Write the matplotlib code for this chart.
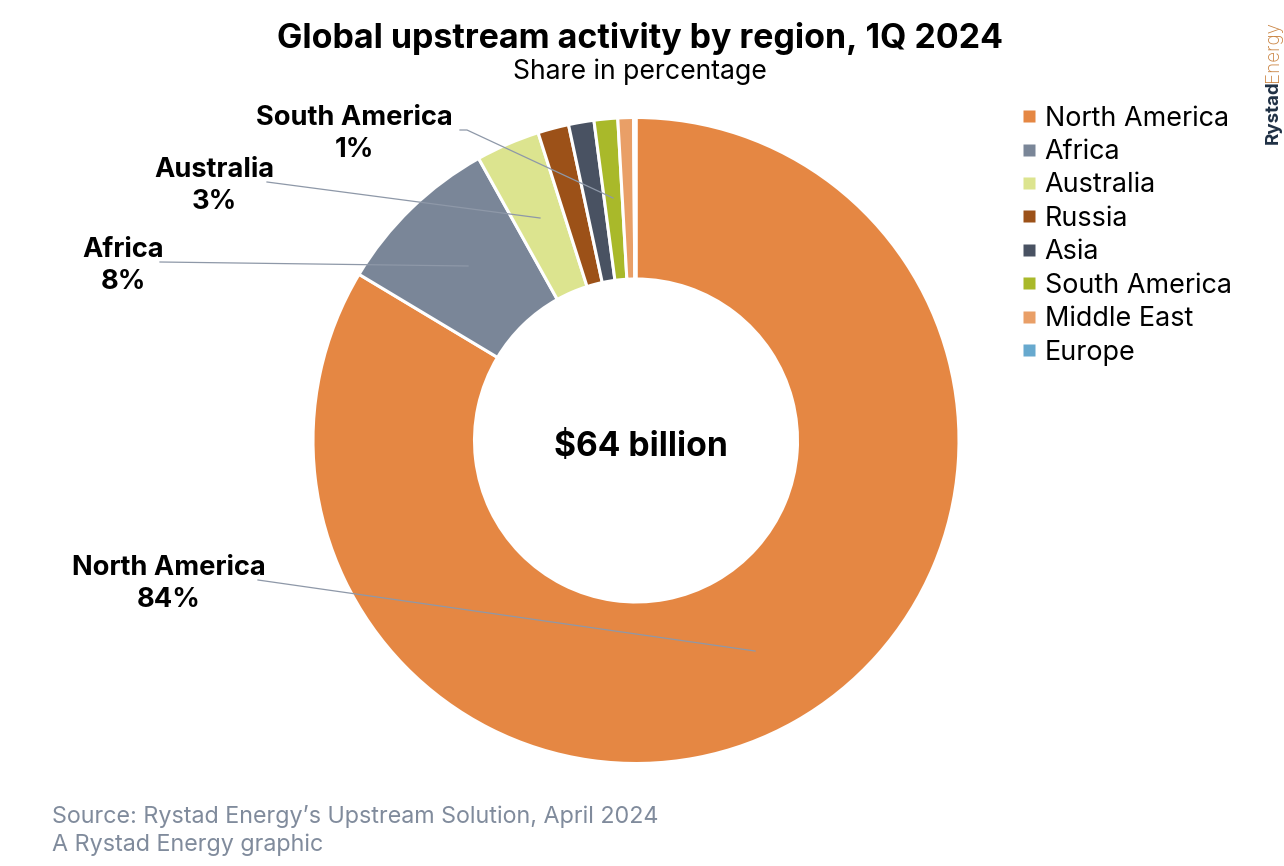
import matplotlib
matplotlib.use('Agg')
from matplotlib import pyplot as plt
from matplotlib.lines import Line2D

regions = ['North America', 'Africa', 'Australia', 'Russia', 'Asia', 'South America', 'Middle East', 'Europe']
shares = [83.6, 8.3, 3.2, 1.55, 1.27, 1.18, 0.78, 0.12]
colors = ['#E58743', '#7A8698', '#DCE48F', '#9C5118', '#495262', '#A9B92A', '#E99F67', '#67A9CE']

# label text, value text, text centre, leader start, leader end (pixels of the reference)
callouts = [
    ('South America', '1%', (354, 131), [(460, 130), (467, 130), (613, 198)]),
    ('Australia', '3%', (214, 183), [(267, 182), (540, 218)]),
    ('Africa', '8%', (123, 263), [(160, 262), (468, 266)]),
    ('North America', '84%', (169, 581), [(258, 580), (755, 651)]),
]

plt.rcParams['font.family'] = ['Inter', 'DejaVu Sans']

W, H = 1284, 866
fig = plt.figure(figsize=(W / 100, H / 100), dpi=100)
ax = fig.add_axes([0, 0, 1, 1])

wedges, _ = ax.pie(shares, colors=colors, startangle=90, counterclock=False,
                   center=(636, H - 440.5), radius=323, frame=False,
                   wedgeprops=dict(width=323 - 161.5, edgecolor='white', linewidth=2.2))
ax.set_xlim(0, W)
ax.set_ylim(0, H)
ax.set_aspect('equal')
ax.set_axis_off()


def yy(y):
    return H - y


ax.text(640, yy(38.5), 'Global upstream activity by region, 1Q 2024', ha='center', va='center',
        fontsize=24.45, fontweight='bold', color='black')
ax.text(640, yy(71.5), 'Share in percentage', ha='center', va='center', fontsize=19.2, color='black')
ax.text(640.5, yy(447), '$64 billion', ha='center', va='center', fontsize=24.2, fontweight='bold',
        color='black', parse_math=False)

for name, val, (tx, ty), pts in callouts:
    ax.text(tx, yy(ty + 3), name + '\n' + val, ha='center', va='center', fontsize=19.6, fontweight='bold',
            linespacing=1.32, color='black')
    ax.plot([p[0] for p in pts], [yy(p[1]) for p in pts], color='#8E98A8', lw=0.9, zorder=5)

handles = [Line2D([], [], ls='none', marker='s', ms=8.5, color=c, mec='none') for c in colors]
ax.legend(handles, regions, loc='upper left', bbox_to_anchor=(1016 / W, 1 - 105.5 / H), frameon=False,
          fontsize=19.4, labelspacing=0.277, handlelength=1.0, handletextpad=0.06, borderpad=0, borderaxespad=0,
          labelcolor='black')

ax.text(52, yy(817), 'Source: Rystad Energy\u2019s Upstream Solution, April 2024', ha='left', va='center',
        fontsize=16.8, color='#808B9C')
ax.text(52, yy(845), 'A Rystad Energy graphic', ha='left', va='center', fontsize=16.8, color='#808B9C')

ax.text(1273, yy(144), 'Rystad', rotation=90, ha='center', va='bottom', fontsize=13.5, fontweight='bold',
        color='#1F3044')
ax.text(1273, yy(82), 'Energy', rotation=90, ha='center', va='bottom', fontsize=13.5, fontweight='light',
        color='#C9823F')

fig.savefig('out.png', dpi=100)
